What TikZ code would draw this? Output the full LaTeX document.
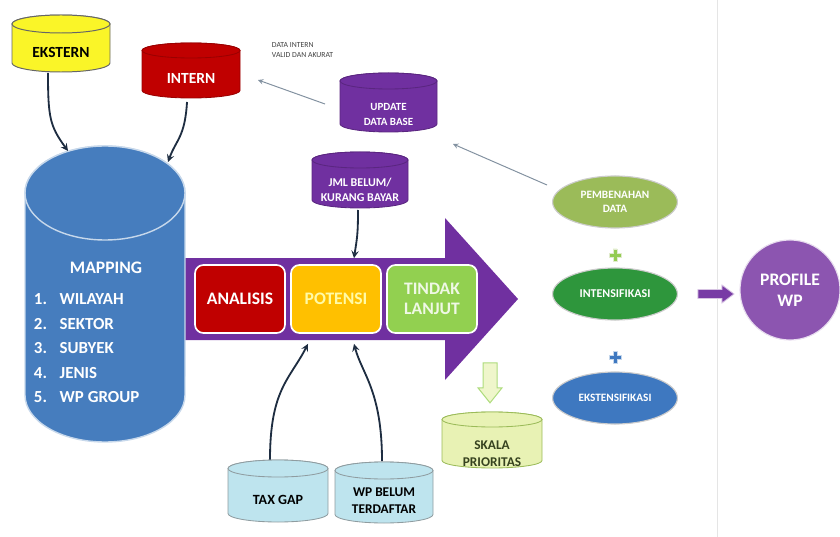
\documentclass[tikz,border=0pt]{standalone}
\usepackage{fontspec}
\setmainfont{Carlito}
\usepackage{tikz}
\usetikzlibrary{shapes,arrows,positioning,calc}
\definecolor{ekyellow}{RGB}{250,245,40}
\definecolor{inred}{RGB}{192,0,0}
\definecolor{dbpurple}{RGB}{112,48,160}
\definecolor{mapblue}{RGB}{70,125,190}
\definecolor{potorange}{RGB}{255,192,0}
\definecolor{tlgreen}{RGB}{146,208,80}
\definecolor{taxblue}{RGB}{190,228,238}
\definecolor{skgreen}{RGB}{232,242,180}
\definecolor{pdgreen}{RGB}{155,187,89}
\definecolor{indgreen}{RGB}{46,150,60}
\definecolor{ekblue}{RGB}{62,120,192}
\definecolor{pwpurple}{RGB}{140,85,176}
\definecolor{linkgray}{RGB}{130,145,160}
\definecolor{linkdark}{RGB}{30,45,65}
% drum: name, x, y, width, height, end radius (px), shape style, text style, text
\newcommand{\drum}[9]{%
  \draw[#7] (#2-#4/2,#3+#5/2-#6) arc[start angle=180, end angle=360, x radius=#4*0.0125cm, y radius=#6*0.025cm]
    -- (#2+#4/2,#3-#5/2+#6) arc[start angle=0, end angle=180, x radius=#4*0.0125cm, y radius=#6*0.025cm] -- cycle;
  \draw[#7] (#2,#3-#5/2+#6) ellipse[x radius=#4*0.0125cm, y radius=#6*0.025cm];
  \node[align=center, font=\bfseries, #8] (#1) at (#2,#3+#6) {#9};}

\begin{document}
\begin{tikzpicture}[x=0.025cm, y=-0.025cm,
    stage/.style={rectangle, rounded corners=6pt, draw=white, line width=1.2pt, minimum width=2.25cm, minimum height=1.7cm, font=\bfseries\fontsize{12.5}{14}\selectfont, align=center},
    oval/.style={ellipse, draw=white!80!black, line width=0.8pt, minimum width=3.12cm, minimum height=1.3cm, text=white, font=\bfseries\fontsize{8}{9.5}\selectfont, align=center},
    feed/.style={->, >=stealth, linkdark, line width=1.3pt},
    back/.style={->, >=stealth, linkgray, line width=0.7pt}]
  \useasboundingbox (0,0) rectangle (840,537);
  \draw[black!10, line width=0.6pt] (717,0) -- (717,537);

  % main process arrow
  \fill[dbpurple] (183,258) -- (445,258) -- (445,218) -- (518,299) -- (445,380) -- (445,340) -- (183,340) -- cycle;
  \node[stage, fill=inred, text=white] (analisis) at (240,299) {ANALISIS};
  \node[stage, fill=potorange, text=yellow!35] (potensi) at (336,299) {POTENSI};
  \node[stage, fill=tlgreen, text=white!85!tlgreen] (tindak) at (432,299) {TINDAK\\LANJUT};

  % data sources
  \drum{mapping}{105}{294}{160}{296}{47}{fill=mapblue, draw=white!70!mapblue, line width=1pt}{}{};
  \node[text=white, font=\bfseries\fontsize{12.5}{14}\selectfont] (maptitle) at (106,268) {MAPPING};
  \node[text=white, font=\bfseries\fontsize{12}{17.4}\selectfont, anchor=west] (maplist) at (29,349)
    {\begin{tabular}{@{}l@{\hspace{9pt}}l@{}}
      1. & WILAYAH\\ 2. & SEKTOR\\ 3. & SUBYEK\\ 4. & JENIS\\ 5. & WP GROUP
    \end{tabular}};
  \drum{ekstern}{61}{43.5}{98}{57}{9}{fill=ekyellow, draw=black!60, line width=0.7pt}{font=\bfseries\fontsize{11}{12}\selectfont}{EKSTERN};
  \drum{intern}{191}{70.5}{98}{55}{7.5}{fill=inred, draw=inred!80!black, line width=0.6pt}{text=white, font=\bfseries\fontsize{11}{12}\selectfont}{INTERN};
  \drum{update}{388.5}{102.5}{97}{59}{8}{fill=dbpurple, draw=dbpurple!80!black, line width=0.6pt}{text=white, yshift=-0.1cm, font=\bfseries\fontsize{7.8}{11}\selectfont}{UPDATE\\DATA BASE};
  \drum{jml}{360}{180}{96}{56}{8}{fill=dbpurple, draw=dbpurple!80!black, line width=0.6pt}{text=white, yshift=-0.05cm, font=\bfseries\fontsize{8.5}{11}\selectfont}{JML BELUM/\\KURANG BAYAR};
  \drum{taxgap}{278}{491}{100}{62}{8.5}{fill=taxblue, draw=taxblue!50!black!70, line width=0.6pt}{font=\bfseries\fontsize{10}{11}\selectfont}{TAX GAP};
  \drum{wpbelum}{384}{492.5}{98}{61}{8.5}{fill=taxblue, draw=taxblue!50!black!70, line width=0.6pt}{font=\bfseries\fontsize{9.5}{12}\selectfont}{WP BELUM\\TERDAFTAR};
  \drum{skala}{492}{440}{100}{56}{7.5}{fill=skgreen, draw=pdgreen, line width=0.6pt}{text=pdgreen!35!black, yshift=-0.15cm, font=\bfseries\fontsize{9.5}{12.5}\selectfont}{SKALA\\PRIORITAS};
  \node[font=\fontsize{5.5}{7}\selectfont, text=black!75, align=left, anchor=north west] (note) at (267,38) {DATA INTERN\\VALID DAN AKURAT};

  % follow-up actions
  \node[oval, fill=pdgreen] (pembenahan) at (615,202) {PEMBENAHAN\\DATA};
  \node[oval, fill=indgreen, font=\bfseries\fontsize{8.5}{10}\selectfont] (intensif) at (615,294) {INTENSIFIKASI};
  \node[oval, fill=ekblue] (ekstensif) at (615,398) {EKSTENSIFIKASI};
  \coordinate (plusa) at (615,255);
  \coordinate (plusb) at (615,357);
  \filldraw[fill=tlgreen!80!pdgreen, draw=white!70!pdgreen, line width=0.4pt] (plusa) ++(-6,-2) -- ++(4,0) -- ++(0,-4) -- ++(4,0) -- ++(0,4) -- ++(4,0) -- ++(0,4) -- ++(-4,0) -- ++(0,4) -- ++(-4,0) -- ++(0,-4) -- ++(-4,0) -- cycle;
  \filldraw[fill=ekblue, draw=white!70!ekblue, line width=0.4pt] (plusb) ++(-6,-2) -- ++(4,0) -- ++(0,-4) -- ++(4,0) -- ++(0,4) -- ++(4,0) -- ++(0,4) -- ++(-4,0) -- ++(0,4) -- ++(-4,0) -- ++(0,-4) -- ++(-4,0) -- cycle;
  \node[circle, fill=pwpurple, draw=white!80!pwpurple, line width=0.8pt, minimum size=2.5cm, text=white, font=\bfseries\fontsize{12.5}{15}\selectfont, align=center] (profile) at (790,290) {PROFILE\\WP};

  % block arrows
  \coordinate (pa) at ($(intensif.east)+(20,0)$);
  \coordinate (pb) at ($(pa)+(36,0)$);
  \filldraw[fill=dbpurple!70!pwpurple, draw=white!65!pwpurple, line width=0.6pt] (pa) ++(0,-4.5) -- ++(24,0) -- ++(0,-4.5) -- (pb) -- ++(-12,9) -- ++(0,-4.5) -- ++(-24,0) -- cycle;
  \coordinate (sa) at ($(tindak.south)+(58,29)$);
  \coordinate (sb) at ($(sa)+(0,40)$);
  \filldraw[fill=skgreen!70!white, draw=tlgreen!75!white, line width=0.7pt] (sa) ++(-7,0) -- ++(0,25) -- ++(-5,0) -- (sb) -- ++(12,-15) -- ++(-5,0) -- ++(0,-25) -- cycle;

  % connectors
  \draw[feed] ($(ekstern)+(-13,20.5)$) .. controls +(0,45) and +(-18,-25) .. ($(mapping)+(-37,-190)$);
  \draw[feed] ($(intern)+(-4,24)$) .. controls +(-2,35) and +(8,-22) .. ($(mapping)+(63,-179)$);
  \draw[feed] ($(jml)+(-2,20)$) .. controls +(0,25) and +(3,-20) .. ($(potensi.north)+(18,-6)$);
  \draw[feed] ($(taxgap)+(-8,-40)$) .. controls +(0,-70) and +(-18,35) .. ($(potensi.south)+(-28,10)$);
  \draw[feed] ($(wpbelum)+(-2,-40)$) .. controls +(0,-70) and +(8,30) .. ($(potensi.south)+(18,10)$);
  \draw[back] ($(update)+(-63.5,-10.5)$) -- ($(intern)+(67,2)$);
  \draw[back] ($(pembenahan)+(-68,-17)$) -- ($(update)+(64.5,29.5)$);
\end{tikzpicture}
\end{document}
